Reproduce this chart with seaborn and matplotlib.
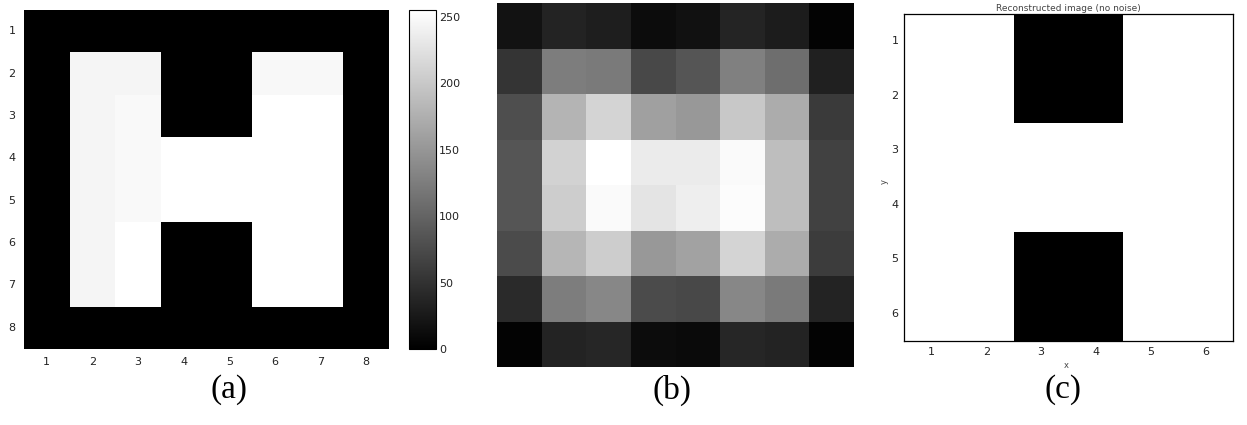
import numpy as np
import pandas as pd
import matplotlib
matplotlib.use("Agg")
import matplotlib.pyplot as plt
import seaborn as sns

sns.set_style("white")
plt.rcParams['font.family'] = ['DejaVu Sans']

# ---- data ----
labels_a = [1, 2, 3, 4, 5, 6, 7, 8]
image_a = [
    [0,   0,   0,   0,   0,   0,   0,   0],
    [0, 245, 245,   0,   0, 248, 248,   0],
    [0, 245, 249,   0,   0, 255, 255,   0],
    [0, 245, 249, 255, 255, 255, 255,   0],
    [0, 245, 249, 255, 255, 255, 255,   0],
    [0, 245, 255,   0,   0, 255, 255,   0],
    [0, 245, 255,   0,   0, 255, 255,   0],
    [0,   0,   0,   0,   0,   0,   0,   0],
]
image_b = [
    [18,  35,  30,  12,  17,  36,  28,  3],
    [52, 125, 122,  72,  85, 128, 110, 32],
    [78, 180, 212, 160, 152, 200, 172, 58],
    [85, 210, 255, 235, 235, 250, 190, 65],
    [85, 205, 250, 228, 238, 252, 190, 65],
    [75, 182, 205, 152, 162, 212, 172, 60],
    [42, 125, 135,  75,  72, 135, 122, 35],
    [3,   35,  38,  12,  10,  38,  35,  3],
]
labels_c = [1, 2, 3, 4, 5, 6]
image_c = [
    [255, 255, 0, 0, 255, 255],
    [255, 255, 0, 0, 255, 255],
    [255, 255, 255, 255, 255, 255],
    [255, 255, 255, 255, 255, 255],
    [255, 255, 0, 0, 255, 255],
    [255, 255, 0, 0, 255, 255],
]
cbar_ticks = [0, 50, 100, 150, 200, 250]
captions = ["(a)", "(b)", "(c)"]
title_c = "Reconstructed image (no noise)"

W, H = 1247, 425
fig = plt.figure(figsize=(W / 100, H / 100), dpi=100)


def px_axes(left, top, right, bottom):
    return fig.add_axes([left / W, (H - bottom) / H, (right - left) / W, (bottom - top) / H])


ax_a = px_axes(24, 10, 389, 349)
cax = px_axes(409, 10, 436, 349)
ax_b = px_axes(497, 3, 854, 367)
ax_c = px_axes(904, 14, 1233, 341)

tick_kw = dict(labelsize=8, colors="#222222")

# Panel (a)
sns.heatmap(pd.DataFrame(image_a, index=labels_a, columns=labels_a), ax=ax_a,
            cmap="gray", vmin=0, vmax=255, cbar_ax=cax,
            xticklabels=labels_a, yticklabels=labels_a)
ax_a.tick_params(axis="both", length=0, pad=6, **tick_kw)
ax_a.set_yticklabels(labels_a, rotation=0)
ax_a.set_xticklabels(labels_a, rotation=0)
cbar = ax_a.collections[0].colorbar
cbar.set_ticks(cbar_ticks)
cbar.ax.tick_params(direction="in", left=True, right=True, length=3, width=0.6,
                    pad=2, **tick_kw)
cbar.outline.set_visible(True)
cbar.outline.set_edgecolor("black")
cbar.outline.set_linewidth(0.8)

# Panel (b)
sns.heatmap(image_b, ax=ax_b, cmap="gray", vmin=0, vmax=255, cbar=False,
            xticklabels=False, yticklabels=False)
ax_b.tick_params(length=0)

# Panel (c)
sns.heatmap(pd.DataFrame(image_c, index=labels_c, columns=labels_c), ax=ax_c,
            cmap="gray", vmin=0, vmax=255, cbar=False,
            xticklabels=labels_c, yticklabels=labels_c)
ax_c.set_yticklabels(labels_c, rotation=0)
ax_c.set_xticklabels(labels_c, rotation=0)
ax_c.tick_params(axis="both", direction="in", length=3, width=0.6, pad=4,
                 top=True, right=True, bottom=True, left=True, **tick_kw)
for s in ax_c.spines.values():
    s.set_visible(True)
    s.set_color("black")
    s.set_linewidth(0.9)

# axis labels of (c), tiny
fig.text(1066 / W, 1 - 366 / H, "x", fontsize=6, color="#444444", ha="center", va="center")
fig.text(884 / W, 1 - 182 / H, "y", fontsize=6, color="#444444", ha="center", va="center",
         rotation=90)
# title of (c), small, just above the axes
fig.text(1068 / W, 1 - 13 / H, title_c, fontsize=6.5, color="#444444",
         ha="center", va="bottom")

# captions
for xpix, cap in zip([229, 672, 1063], captions):
    fig.text(xpix / W, 1 - 390 / H, cap, fontsize=24, family="Liberation Serif",
             ha="center", va="center", color="black")

fig.savefig("out.png", dpi=100)
